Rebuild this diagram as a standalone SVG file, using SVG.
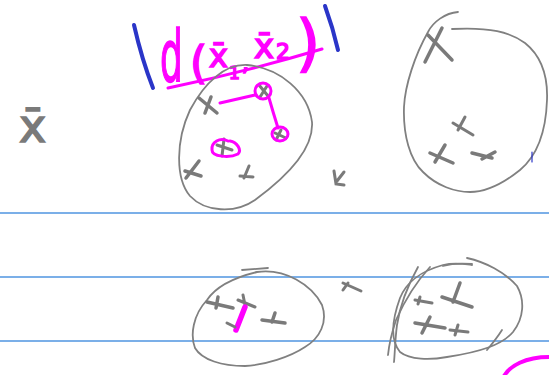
<svg xmlns="http://www.w3.org/2000/svg" width="549" height="375" viewBox="0 0 549 375">
<style>
.rule{stroke:#4f95e0;stroke-width:1.5;fill:none}
.out{stroke:#808080;stroke-width:1.8;fill:none;stroke-linecap:round;stroke-linejoin:round}
.x{stroke:#7a7a7a;stroke-width:3.5;fill:none;stroke-linecap:round}
.xs{stroke:#7a7a7a;stroke-width:3;fill:none;stroke-linecap:round}
.mg{stroke:#ff00ff;stroke-width:3;fill:none;stroke-linecap:round;stroke-linejoin:round}
.bl{stroke:#2a35c8;stroke-width:4;fill:none;stroke-linecap:round}
.mt{fill:#ff00ff;stroke:#ff00ff;stroke-width:1.6;font-family:"DejaVu Sans",sans-serif}
.gt{fill:#7a7a7a;stroke:#7a7a7a;stroke-width:1.5;font-family:"DejaVu Sans",sans-serif}
</style>
<rect width="549" height="375" fill="#ffffff"/>
<g id="rules">
<line class="rule" x1="0" y1="213" x2="549" y2="213"/>
<line class="rule" x1="0" y1="277" x2="549" y2="277"/>
<line class="rule" x1="0" y1="341" x2="549" y2="341"/>
</g>
<g id="xbar-left">
<text class="gt" x="19" y="142" font-size="46">x̄</text>
</g>
<g id="formula">
<path class="bl" d="M134,25 Q142,60 153,88"/>
<path class="bl" d="M325,6 Q333,28 338,50"/>
<text class="mt" transform="translate(160,81) scale(0.5,1)" font-size="72">d</text>
<text class="mt" x="190" y="78" font-size="44">(</text>
<text class="mt" x="209" y="67" font-size="32">x̄</text>
<text class="mt" x="229" y="79" font-size="17">1</text>
<text class="mt" x="242" y="71" font-size="22">,</text>
<text class="mt" x="254" y="58" font-size="34">x̄</text>
<text class="mt" x="276" y="59" font-size="22">2</text>
<text class="mt" x="296" y="64" font-size="62">)</text>
<path class="mg" d="M168,88 Q245,72 322,49"/>
</g>
<g id="cluster1">
<path class="out" d="M247,65 C280,68 308,92 312,122 C314,150 285,178 255,200 C235,214 205,212 190,196 C175,178 176,140 190,110 C205,82 225,64 247,65 Z"/>
<path class="x" d="M199,98 L217,113 M211,97 L205,113"/>
<path class="xs" d="M259,85 L268,96 M267,86 L260,97"/>
<circle class="mg" cx="263" cy="91" r="8"/>
<path class="mg" d="M220,103 L255,95"/>
<path class="mg" d="M269,98 Q273,112 278,128"/>
<path class="xs" d="M275,133 L286,138 M281,130 L276,140"/>
<ellipse class="mg" cx="280" cy="134" rx="8" ry="7"/>
<path class="xs" d="M217,145 L232,150 M224,139 L222,156"/>
<path class="mg" d="M228,141 C220,137 211,142 212,150 C212,157 230,158 238,154 C242,150 237,142 230,141"/>
<path class="x" d="M185,171 L201,176 M199,161 L186,178"/>
<path class="xs" d="M240,176 L253,177 M249,166 L244,178"/>
</g>
<g id="cluster2">
<path class="out" d="M458,12 C445,13 433,22 428,32 C415,55 405,85 404,107 C403,135 410,160 423,172 C437,186 455,192 470,192 C488,192 505,182 520,170 C538,155 546,130 547,100 C548,75 540,55 525,43 C510,32 490,27 452,29"/>
<path class="x" d="M442,28 L425,62 M428,35 L452,60"/>
<path class="xs" d="M465,117 L458,130 M453,123 L473,135"/>
<path class="x" d="M445,145 L435,162 M430,153 L453,163"/>
<path class="x" d="M472,153 L492,158 M495,152 L482,159"/>
<path class="bl" style="stroke-width:1.2" d="M532,152 L532,162"/>
</g>
<g id="marks">
<path class="xs" d="M334,171 L336,184 L344,185 M344,172 L337,181"/>
<path class="xs" d="M343,283 L361,291 M348,283 L343,290"/>
</g>
<g id="cluster3">
<path class="out" d="M242,270 L268,268"/>
<path class="out" d="M207,300 C215,288 232,278 257,272 C285,268 312,285 322,305 C328,322 320,338 305,347 C290,357 265,365 245,366 C222,366 202,360 195,348 C190,335 193,315 207,300 Z"/>
<path class="x" d="M207,302 L233,308 M218,297 L216,308"/>
<path class="xs" d="M238,300 L255,307 M243,295 L245,305"/>
<path class="mg" style="stroke-width:5.5" d="M245,307 L236,330"/>
<path class="xs" d="M227,323 L235,327"/>
<path class="x" d="M262,320 L285,323 M275,313 L272,322"/>
</g>
<g id="cluster4">
<path class="out" d="M467,258 C485,262 505,272 517,286 C525,300 524,318 513,332 C502,345 480,352 447,357 C430,360 410,360 400,352 C390,340 392,320 400,298 C406,283 418,272 443,265 C455,262 465,264 472,265"/>
<path class="out" d="M418,267 C408,285 400,305 397,325 C395,340 395,352 394,362"/>
<path class="out" d="M430,267 C418,280 405,300 396,320 C391,335 389,345 388,355"/>
<path class="out" d="M502,330 C497,338 492,344 487,350"/>
<path class="out" d="M443,266 C450,264 460,263 472,264"/>
<path class="xs" d="M415,300 L432,303 M420,297 L418,304"/>
<path class="x" d="M460,283 L453,302 M442,297 L472,307"/>
<path class="x" d="M415,323 L445,328 M430,317 L422,333"/>
<path class="xs" d="M450,330 L468,332 M458,325 L455,335"/>
</g>
<g id="arc">
<path class="mg" style="stroke-width:4" d="M504,376 C510,366 525,357 549,357"/>
</g>
</svg>
